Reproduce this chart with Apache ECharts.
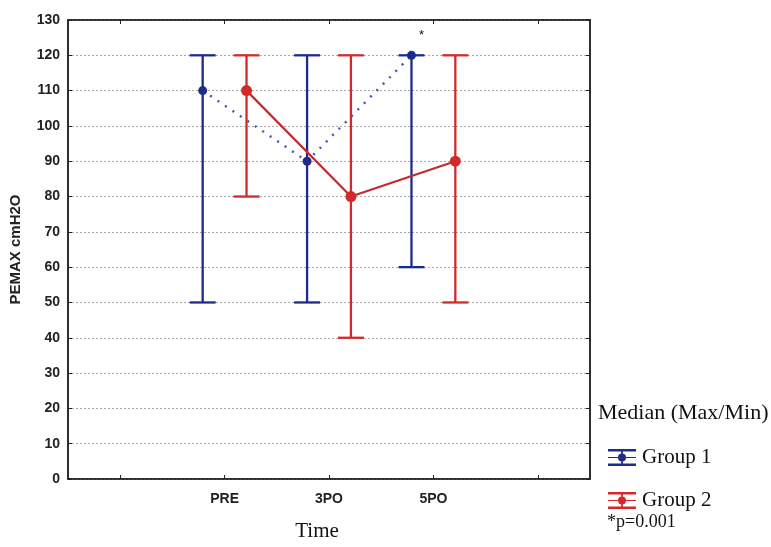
<!DOCTYPE html>
<html><head><meta charset="utf-8">
<script src="https://cdn.jsdelivr.net/npm/echarts@6/dist/echarts.min.js"></script>
<style>html,body{margin:0;padding:0;background:#fff;overflow:hidden}#c{width:771px;height:547px}</style>
</head><body><div id="c"></div>
<script>
const categories = ['PRE', '3PO', '5PO'];
const group1Median = [110, 90, 120];
const group1Max = [120, 120, 120];
const group1Min = [50, 50, 60];
const group2Median = [110, 80, 90];
const group2Max = [120, 120, 120];
const group2Min = [80, 40, 50];
const group1Star = [false, false, true];

const BLUE = '#1d2b8c', RED = '#d22a2a';
const OFFSET = 0.21;
const axisCats = [''].concat(categories, ['']);
function pos(i, off) { return i + 1.5 + off; }
function errData(max, min, off) { return max.map((v, i) => [pos(i, off), min[i], v]); }
function lineData(med, off, stars) {
  return med.map((m, i) => {
    const item = { value: [pos(i, off), m] };
    if (stars && stars[i]) item.label = { show: true, formatter: '*', position: 'top', offset: [10, -4], color: '#111', fontSize: 13, fontFamily: 'Liberation Sans' };
    return item;
  });
}
function errRender(color) {
  return function (params, api) {
    const x = api.value(0);
    const lo = api.coord([x, api.value(1)]);
    const hi = api.coord([x, api.value(2)]);
    const hw = 13;
    const style = { stroke: color, lineWidth: 2.3 };
    return { type: 'group', children: [
      { type: 'line', shape: { x1: lo[0], y1: lo[1], x2: hi[0], y2: hi[1] }, style },
      { type: 'line', shape: { x1: lo[0] - hw, y1: lo[1], x2: lo[0] + hw, y2: lo[1] }, style },
      { type: 'line', shape: { x1: hi[0] - hw, y1: hi[1], x2: hi[0] + hw, y2: hi[1] }, style }
    ] };
  };
}
const iconPath = 'path://M0 0H28V2.4H0Z M0 14.6H28V17H0Z M13.1 2.4H14.9V4.5H13.1Z M13.1 12.5H14.9V14.6H13.1Z M0 7.9H10H10V9.1H0Z M18 7.9H28V9.1H18Z M10 8.5A4 4 0 1 1 18 8.5A4 4 0 1 1 10 8.5Z';
const sansLbl = { fontFamily: 'Liberation Sans', fontWeight: 'bold', fontSize: 14, color: '#222' };

const el = document.getElementById('c');
const chart = echarts.init(el, null, { renderer: 'canvas' });
chart.setOption({
  animation: false,
  backgroundColor: '#fff',
  grid: { left: 67, right: 181, top: 20, bottom: 61, show: true, borderColor: '#222', borderWidth: 1.5, backgroundColor: 'transparent' },
  legend: {
    orient: 'vertical', left: 603, top: 442, itemWidth: 28, itemHeight: 17, itemGap: 22,
    textStyle: { fontFamily: 'Liberation Serif', fontSize: 21, color: '#111', padding: [0, 0, 0, 1] },
    data: [{ name: 'Group 1', icon: iconPath }, { name: 'Group 2', icon: iconPath }]
  },
  graphic: [
    { type: 'text', left: 598, top: 402, style: { text: 'Median (Max/Min)', font: '22px "Liberation Serif"', fill: '#111' } },
    { type: 'text', left: 607, top: 513, style: { text: '*p=0.001', font: '18px "Liberation Serif"', fill: '#111' } }
  ],
  xAxis: [
    { type: 'category', data: axisCats, position: 'bottom', boundaryGap: true,
      axisLine: { show: true, lineStyle: { color: '#222', width: 1.5 } },
      axisTick: { show: true, inside: true, alignWithLabel: true, length: 4, interval: 0, lineStyle: { color: '#222' } },
      axisLabel: Object.assign({ margin: 13, interval: 0 }, sansLbl),
      splitLine: { show: false },
      name: 'Time', nameLocation: 'middle', nameGap: 42,
      nameTextStyle: { fontFamily: 'Liberation Serif', fontSize: 21, color: '#111', padding: [0, 24, 0, 0] } },
    { type: 'value', min: 0, max: 5, show: false },
    { type: 'category', data: axisCats, position: 'top', boundaryGap: true,
      axisLine: { show: true, lineStyle: { color: '#222', width: 1.5 } },
      axisTick: { show: true, inside: true, alignWithLabel: true, length: 4, interval: 0, lineStyle: { color: '#222' } },
      axisLabel: { show: false }, splitLine: { show: false } }
  ],
  yAxis: [
    { type: 'value', min: 0, max: 130, interval: 10,
      axisLine: { show: true, lineStyle: { color: '#222', width: 1.5 } },
      axisTick: { show: true, inside: true, length: 4, lineStyle: { color: '#222' } },
      axisLabel: Object.assign({ margin: 8 }, sansLbl),
      splitLine: { show: true, lineStyle: { color: '#aaa', type: [2, 2], width: 1 } },
      name: 'PEMAX cmH2O', nameLocation: 'middle', nameGap: 45, nameRotate: 90,
      nameTextStyle: { fontFamily: 'Liberation Sans', fontWeight: 'bold', fontSize: 15, color: '#222' } },
    { type: 'value', min: 0, max: 130, interval: 10, position: 'right',
      axisLine: { show: true, lineStyle: { color: '#222', width: 1.5 } },
      axisTick: { show: true, inside: true, length: 4, lineStyle: { color: '#222' } },
      axisLabel: { show: false }, splitLine: { show: false } }
  ],
  series: [
    { type: 'custom', name: 'Group 1 range', xAxisIndex: 1, yAxisIndex: 0, renderItem: errRender(BLUE), data: errData(group1Max, group1Min, -OFFSET), z: 2 },
    { type: 'custom', name: 'Group 2 range', xAxisIndex: 1, yAxisIndex: 0, renderItem: errRender(RED), data: errData(group2Max, group2Min, OFFSET), z: 2 },
    { type: 'line', name: 'Group 1', xAxisIndex: 1, yAxisIndex: 0, symbol: 'circle', symbolSize: 9,
      itemStyle: { color: BLUE }, lineStyle: { color: '#4a58a8', type: [2, 7], width: 2.5 },
      data: lineData(group1Median, -OFFSET, group1Star), z: 4 },
    { type: 'line', name: 'Group 2', xAxisIndex: 1, yAxisIndex: 0, symbol: 'circle', symbolSize: 11,
      itemStyle: { color: RED }, lineStyle: { color: '#c42a2e', type: 'solid', width: 2.2 },
      data: lineData(group2Median, OFFSET), z: 3 }
  ]
});
</script>
</body></html>
